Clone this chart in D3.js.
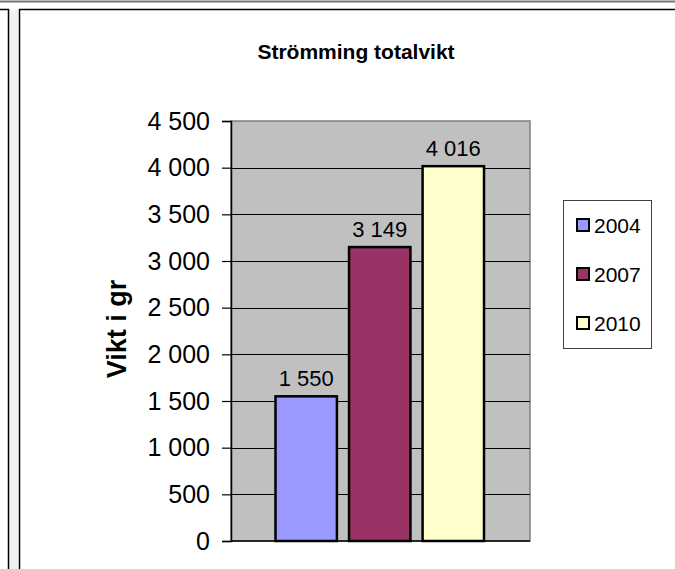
<!DOCTYPE html>
<html>
<head>
<meta charset="utf-8">
<script src="https://cdn.jsdelivr.net/npm/d3@7"></script>
<style>
  html, body { margin: 0; padding: 0; background: #fff; }
  svg { display: block; }
  text { font-family: "Liberation Sans", Arial, sans-serif; fill: #000; }
</style>
</head>
<body>
<svg id="chart" width="675" height="569"></svg>
<script>
// ---- data ----
const title = "Strömming totalvikt";
const yAxisTitle = "Vikt i gr";
const seriesNames = ["2004", "2007", "2010"];
const seriesValues = [1550, 3149, 4016];
const seriesColors = ["#9999FF", "#993366", "#FFFFCC"];
const yTicks = [0, 500, 1000, 1500, 2000, 2500, 3000, 3500, 4000, 4500];

const fmt = v => d3.format(",")(v).replace(/,/g, " ");

const svg = d3.select("#chart");

// ---- frame ----
svg.append("rect").attr("x", 9).attr("y", 10).attr("width", 9).attr("height", 569).attr("fill", "#f0f0f0");
svg.append("line").attr("x1", 0).attr("x2", 675).attr("y1", 1.5).attr("y2", 1.5).attr("stroke", "#777").attr("stroke-width", 2);
svg.append("path").attr("d", "M0,9.5H8.5V569").attr("fill", "none").attr("stroke", "#000").attr("stroke-width", 1.5);
svg.append("path").attr("d", "M675,9.5H19.5V569").attr("fill", "none").attr("stroke", "#000").attr("stroke-width", 1.5);

// ---- plot area ----
const plot = { left: 231, right: 530, top: 121, bottom: 541 };

const y = d3.scaleLinear().domain([0, 4500]).range([plot.bottom, plot.top]);
const x = d3.scaleBand().domain(seriesNames).range([275.5, 484]).paddingInner(0.165).paddingOuter(0);

svg.append("rect")
  .attr("x", plot.left).attr("y", plot.top)
  .attr("width", plot.right - plot.left).attr("height", plot.bottom - plot.top)
  .attr("fill", "#C0C0C0").attr("stroke", "#808080").attr("stroke-width", 1.5);

// gridlines
svg.append("g").selectAll("line")
  .data(yTicks.filter(t => t > 0 && t < 4500))
  .join("line")
  .attr("x1", plot.left).attr("x2", plot.right)
  .attr("y1", d => Math.round(y(d)) + 0.5).attr("y2", d => Math.round(y(d)) + 0.5)
  .attr("stroke", "#000").attr("stroke-width", 1);

// y axis
const yAxis = d3.axisLeft(y).tickValues(yTicks).tickFormat(fmt).tickSizeOuter(0).tickSize(9).tickPadding(12);
const gY = svg.append("g").attr("transform", `translate(${plot.left},0)`).call(yAxis);
gY.select(".domain").attr("stroke", "#000").attr("stroke-width", 1.5);
gY.selectAll(".tick line").attr("stroke", "#000").attr("stroke-width", 1.2);
gY.selectAll(".tick text").style("font-size", "25px").style("font-family", "'Liberation Sans', Arial, sans-serif").attr("fill", "#000");

// x axis line
svg.append("line").attr("x1", plot.left).attr("x2", plot.right)
  .attr("y1", plot.bottom).attr("y2", plot.bottom).attr("stroke", "#000").attr("stroke-width", 1.5);

// bars
svg.append("g").selectAll("rect")
  .data(seriesNames)
  .join("rect")
  .attr("x", d => x(d))
  .attr("y", (d, i) => y(seriesValues[i]))
  .attr("width", x.bandwidth())
  .attr("height", (d, i) => y(0) - y(seriesValues[i]))
  .attr("fill", (d, i) => seriesColors[i])
  .attr("stroke", "#000").attr("stroke-width", 2.5);

// data labels
svg.append("g").selectAll("text")
  .data(seriesNames)
  .join("text")
  .attr("x", d => x(d) + x.bandwidth() / 2)
  .attr("y", (d, i) => y(seriesValues[i]) - 10)
  .attr("text-anchor", "middle")
  .style("font-size", "22px")
  .text((d, i) => fmt(seriesValues[i]));

// title
svg.append("text")
  .attr("x", 356).attr("y", 59)
  .attr("text-anchor", "middle")
  .style("font-size", "21px").style("font-weight", "bold")
  .text(title);

// y axis title
svg.append("text")
  .attr("transform", "translate(126,329) rotate(-90)")
  .attr("text-anchor", "middle")
  .style("font-size", "27px").style("font-weight", "bold")
  .text(yAxisTitle);

// legend
const lg = svg.append("g");
lg.append("rect").attr("x", 563.5).attr("y", 200.5).attr("width", 88).attr("height", 148)
  .attr("fill", "#fff").attr("stroke", "#404040").attr("stroke-width", 1);
const item = lg.selectAll("g.item").data(seriesNames).join("g")
  .attr("class", "item")
  .attr("transform", (d, i) => `translate(577,${225 + i * 49})`);
item.append("rect").attr("x", 0).attr("y", -6).attr("width", 12).attr("height", 12)
  .attr("fill", (d, i) => seriesColors[i]).attr("stroke", "#000").attr("stroke-width", 2);
item.append("text").attr("x", 17).attr("y", 0).attr("dy", "0.36em")
  .style("font-size", "21px").text(d => d);
</script>
</body>
</html>
